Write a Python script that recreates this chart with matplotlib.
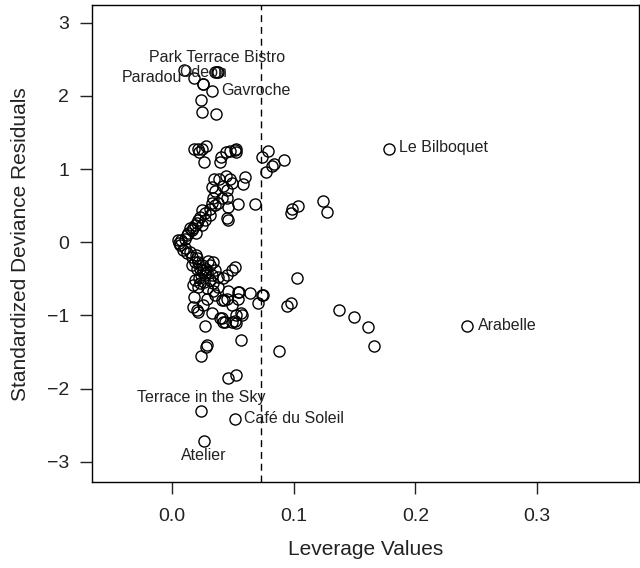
import numpy as np
import matplotlib
matplotlib.use("Agg")
import matplotlib.pyplot as plt

plt.rcParams["font.family"] = ["Liberation Sans", "DejaVu Sans"]

# leverage / standardized deviance residual pairs
lev = [
    0.0098, 0.0352, 0.038, 0.0254, 0.0238, 0.0246, 0.036,
    0.018, 0.0213, 0.0246, 0.028, 0.022, 0.026,
    0.040, 0.0443, 0.0475, 0.0516, 0.053, 0.0525, 0.0393,
    0.0787, 0.0738, 0.0918, 0.0836, 0.082, 0.077,
    0.0344, 0.0385, 0.0443, 0.0475, 0.060, 0.0328, 0.0418, 0.049, 0.058, 0.0352, 0.045,
    0.041, 0.045, 0.0336, 0.0328, 0.0377, 0.0459, 0.054, 0.068,
    0.0984, 0.1033, 0.1238, 0.127, 0.0975,
    0.045, 0.0459,
    0.0352, 0.031, 0.027, 0.023, 0.0213, 0.0205, 0.0172, 0.0164, 0.013, 0.0123, 0.005,
    0.031, 0.027, 0.025, 0.0197, 0.015, 0.0246, 0.019, 0.0107, 0.0074, 0.0057,
    0.0066, 0.009, 0.0123, 0.0164, 0.0205, 0.0213, 0.0246, 0.0254, 0.0287, 0.0295,
    0.0336, 0.0328, 0.0377, 0.0418, 0.045, 0.0516, 0.049,
    0.0107, 0.015, 0.019, 0.023, 0.027, 0.031, 0.028, 0.0197, 0.0238, 0.0352, 0.031,
    0.0164, 0.0205, 0.027, 0.0172, 0.023, 0.0287, 0.0336, 0.0459, 0.054, 0.064, 0.0738,
    0.0705, 0.041, 0.045, 0.049, 0.0172, 0.0205, 0.0213, 0.0328, 0.041, 0.0434, 0.0516,
    0.0574, 0.053, 0.027, 0.0566, 0.0287,
    0.018, 0.0213, 0.0426, 0.0566, 0.055, 0.054, 0.0746, 0.0393, 0.0418, 0.049, 0.0525,
    0.022, 0.026, 0.019, 0.0336, 0.0377, 0.0352, 0.0287, 0.0254,
    0.028, 0.0238, 0.0459, 0.0525, 0.0877, 0.1025, 0.0943, 0.0975, 0.137, 0.150,
    0.1607, 0.166,
]
res = [
    2.35, 2.33, 2.33, 2.16, 1.94, 1.78, 1.75,
    1.28, 1.28, 1.28, 1.31, 1.23, 1.09,
    1.16, 1.23, 1.24, 1.26, 1.28, 1.23, 1.09,
    1.24, 1.16, 1.13, 1.07, 1.04, 0.96,
    0.87, 0.87, 0.90, 0.87, 0.89, 0.75, 0.77, 0.81, 0.79, 0.70, 0.71,
    0.61, 0.61, 0.61, 0.53, 0.53, 0.48, 0.52, 0.52,
    0.46, 0.49, 0.56, 0.41, 0.40,
    0.33, 0.31,
    0.51, 0.46, 0.40, 0.34, 0.30, 0.26, 0.20, 0.16, 0.12, 0.10, 0.03,
    0.37, 0.30, 0.23, 0.12, 0.19, 0.44, 0.23, 0.05, 0.03, -0.01,
    -0.04, -0.11, -0.15, -0.20, -0.22, -0.27, -0.31, -0.38, -0.41, -0.25,
    -0.27, -0.45, -0.48, -0.49, -0.45, -0.34, -0.38,
    -0.08, -0.14, -0.27, -0.36, -0.45, -0.52, -0.36, -0.18, -0.45, -0.38, -0.31,
    -0.31, -0.36, -0.42, -0.59, -0.56, -0.63, -0.66, -0.66, -0.68, -0.70, -0.72,
    -0.83, -0.79, -0.77, -0.86, -0.89, -0.92, -0.96, -0.97, -1.04, -1.09, -1.07,
    -1.00, -1.00, -1.15, -1.33, -1.41,
    -0.75, -0.61, -0.79, -0.97, -0.68, -0.78, -0.72, -1.04, -1.09, -1.09, -1.11,
    -0.49, -0.55, -0.52, -0.56, -0.61, -0.72, -0.77, -0.86,
    -1.43, -1.56, -1.86, -1.82, -1.48, -0.49, -0.87, -0.83, -0.92, -1.02,
    -1.16, -1.42,
]

# labelled restaurants
names = ["Park Terrace Bistro", "Odeon", "Paradou", "Gavroche", "Le Bilboquet",
         "Arabelle", "Terrace in the Sky", "Café du Soleil", "Atelier"]
name_lev = [0.0369, 0.0254, 0.018, 0.0328, 0.1787, 0.2426, 0.0238, 0.0516, 0.026]
name_res = [2.32, 2.16, 2.24, 2.06, 1.28, -1.15, -2.31, -2.42, -2.72]
# where each label sits: (dx, dy) in points, horizontal alignment
name_pos = [(0, 10.8, "center"), (0, 8.6, "center"), (-8.5, 0.5, "right"),
            (7, 0.5, "left"), (7, 0.5, "left"), (7.5, 0.5, "left"),
            (0, 10, "center"), (7, 0.5, "left"), (0, -10, "center")]

cutoff = 2 * 6 / 164

fig = plt.figure(figsize=(6.4, 5.68), dpi=100)
ax = fig.add_axes([0.144, 0.151, 0.854, 0.840])

ax.plot(lev + name_lev, res + name_res, "o", mfc="none", mec="black",
        ms=8, mew=1.0, ls="none")
ax.axvline(cutoff, color="black", lw=1.0, ls=(0, (5, 3.5)))

for n, x, y, (dx, dy, ha) in zip(names, name_lev, name_res, name_pos):
    ax.annotate(n, (x, y), xytext=(dx, dy), textcoords="offset points",
                ha=ha, va="center", fontsize=11.5, color="#222222")

ax.set_xlim(-0.0656, 0.3836)
ax.set_ylim(-3.28, 3.24)
ax.set_xticks([0.0, 0.1, 0.2, 0.3])
ax.set_xticklabels(["0.0", "0.1", "0.2", "0.3"])
ax.set_yticks([-3, -2, -1, 0, 1, 2, 3])
ax.set_yticklabels(["\u22123", "\u22122", "\u22121", "0", "1", "2", "3"])
ax.tick_params(direction="out", length=8.5, width=1.0, labelsize=14, pad=10,
               colors="#222222")
ax.tick_params(axis="y", pad=8)
for sp in ax.spines.values():
    sp.set_linewidth(1.0)

ax.set_xlabel("Leverage Values", fontsize=15, labelpad=11, color="#222222")
ax.set_ylabel("Standardized Deviance Residuals", fontsize=15, labelpad=12,
              color="#222222")

fig.savefig("out.png", dpi=100)
